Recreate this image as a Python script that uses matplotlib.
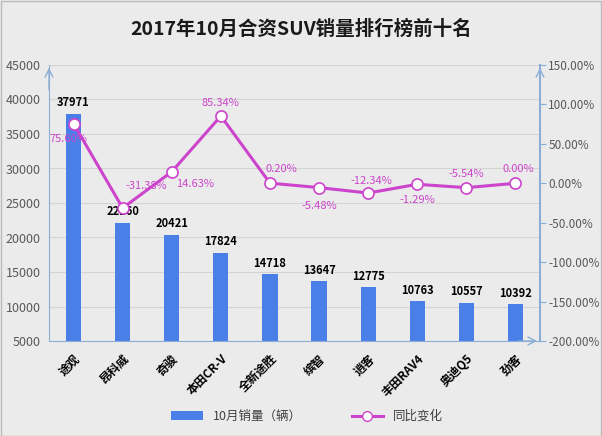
import numpy as np
import matplotlib.pyplot as plt
from matplotlib.lines import Line2D
from matplotlib.patches import Patch, Rectangle

plt.rcParams['font.family'] = ['Noto Sans CJK SC', 'DejaVu Sans']

models = ['途观', '昂科威', '奇骏', '本田CR-V', '全新途胜', '缤智', '逍客', '丰田RAV4', '奥迪Q5', '劲客']
sales = [37971, 22160, 20421, 17824, 14718, 13647, 12775, 10763, 10557, 10392]
yoy = [75.60, -31.38, 14.63, 85.34, 0.20, -5.48, -12.34, -1.29, -5.54, 0.00]
yoy_text = ['75.60%', '-31.38%', '14.63%', '85.34%', '0.20%', '-5.48%', '-12.34%', '-1.29%', '-5.54%', '0.00%']
# label offsets (points) for the percentage labels
yoy_off = [(-4, -11), (17, 16), (17, -9), (0, 9), (8, 10), (0, -13), (2, 9), (0, -11), (0, 10), (2, 10)]

bg = '#EBEBEB'
blue = '#4A7FE8'
mag = '#CC44CC'
axc = '#8CAED6'

fig = plt.figure(figsize=(6.02, 4.36), dpi=100, facecolor=bg)
ax = fig.add_axes([49/602, 1-341/436, 491/602, 276/436])
ax.set_facecolor(bg)
x = np.arange(len(models))

ax.bar(x, np.array(sales) - 5000, bottom=5000, width=0.31, color=blue, zorder=2)
for xi, v in zip(x, sales):
    ax.annotate(str(v), (xi, v), xytext=(0, 3), textcoords='offset points',
                ha='center', va='bottom', fontsize=8, fontweight='bold', color='black')

ax.set_xlim(-0.5, len(models) - 0.5)
ax.set_ylim(5000, 45000)
ax.set_yticks(np.arange(5000, 45001, 5000))
ax.yaxis.grid(True, color='#D4D4D4', linewidth=0.8, zorder=0)
ax.set_axisbelow(True)
ax.tick_params(axis='y', length=0, labelsize=9, labelcolor='#595959', pad=6)
ax.set_xticks(x)
ax.set_xticklabels(models, rotation=45, ha='right', rotation_mode='anchor',
                   fontsize=8.5, fontweight='bold')
ax.tick_params(axis='x', length=0, pad=8)
for s in ['top', 'right']:
    ax.spines[s].set_visible(False)
ax.spines['left'].set_color(axc)
ax.spines['bottom'].set_color(axc)

ax2 = ax.twinx()
ax2.plot(x, yoy, color=mag, linewidth=2.2, marker='o', markersize=8,
         markerfacecolor='white', markeredgecolor=mag, markeredgewidth=1.2, zorder=3)
for xi, v, t, off in zip(x, yoy, yoy_text, yoy_off):
    ax2.annotate(t, (xi, v), xytext=off, textcoords='offset points',
                 ha='center', va='center', fontsize=8, color=mag)
ax2.set_ylim(-200, 150)
ax2.set_yticks(np.arange(-200, 151, 50))
ax2.set_yticklabels([f'{t:.2f}%' for t in np.arange(-200, 151, 50)])
ax2.tick_params(axis='y', length=4, color=axc, labelsize=8.5, labelcolor='#595959', pad=2)
for s in ['top', 'left', 'bottom']:
    ax2.spines[s].set_visible(False)
ax2.spines['right'].set_color(axc)
ax2.spines['right'].set_linewidth(1.5)

# axis arrows
arr = dict(arrowstyle='->', color=axc, lw=1.0, mutation_scale=14)
ax.annotate('', xy=(0, 1.0), xytext=(0, 0.9), xycoords='axes fraction', arrowprops=arr)
ax.annotate('', xy=(1, 1.0), xytext=(1, 0.9), xycoords='axes fraction', arrowprops=arr)
ax.annotate('', xy=(1.0, 0), xytext=(0.95, 0), xycoords='axes fraction', arrowprops=arr)

fig.suptitle('2017年10月合资SUV销量排行榜前十名', x=0.5, y=0.955, fontsize=14,
             fontweight='bold', color='#1a1a1a')

handles = [Patch(facecolor=blue), Line2D([0], [0], color=mag, lw=2.2, marker='o', markersize=7,
                                         markerfacecolor='white', markeredgecolor=mag)]
fig.legend(handles, ['10月销量（辆）', '同比变化'], loc='center', bbox_to_anchor=(0.51, 0.045),
           ncol=2, frameon=False, fontsize=9, columnspacing=4, handlelength=2.5,
           labelcolor='#404040')

fig.add_artist(Rectangle((0.001, 0.001), 0.997, 0.997, transform=fig.transFigure,
                         fill=False, edgecolor='#BBBBBB', linewidth=1))

fig.savefig('out.png', dpi=100, facecolor=bg)
